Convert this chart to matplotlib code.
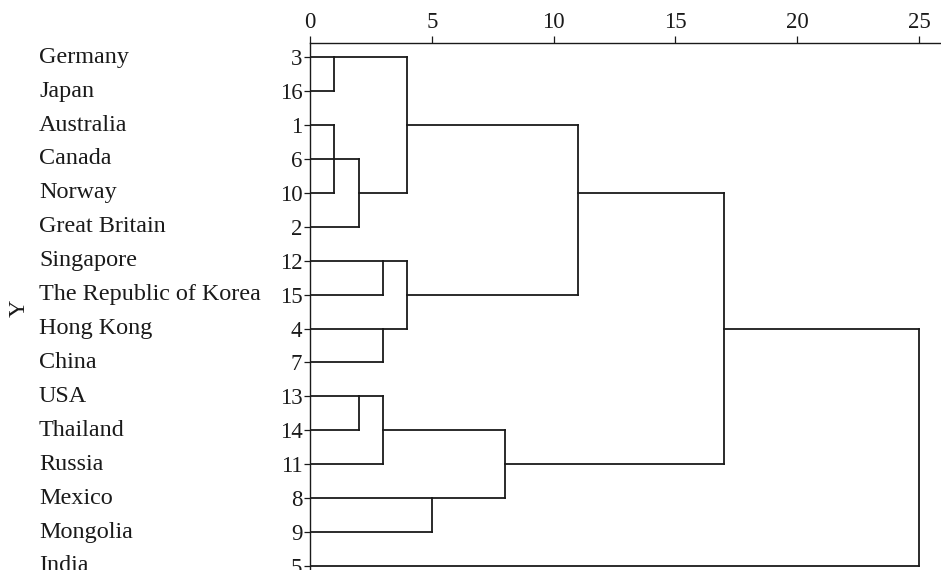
import matplotlib
matplotlib.use("Agg")
import matplotlib.pyplot as plt
import matplotlib.transforms as mtransforms

# Leaves in display order (top to bottom)
countries = ["Germany", "Japan", "Australia", "Canada", "Norway", "Great Britain",
             "Singapore", "The Republic of Korea", "Hong Kong", "China", "USA",
             "Thailand", "Russia", "Mexico", "Mongolia", "India"]
case_ids = [3, 16, 1, 6, 10, 2, 12, 15, 4, 7, 13, 14, 11, 8, 9, 5]

# Agglomeration schedule: (cluster A, cluster B, rescaled distance).
# Leaves are referred to by case id; the cluster formed at step k is "c<k>".
merge_a = [3, 1, 6, "c2", 12, 4, 13, "c6", 8, "c0", "c4", "c7", "c9", "c12", "c13"]
merge_b = [16, 10, "c1", 2, 15, 7, 14, 11, 9, "c3", "c5", "c8", "c10", "c11", 5]
merge_d = [1, 1, 1, 2, 3, 3, 2, 3, 5, 4, 4, 8, 11, 17, 25]

fig = plt.figure(figsize=(9.41, 5.70), dpi=100)
W, H = 941, 570
left_px, top_px = 310, 43
ax = fig.add_axes([left_px / W, 0, (W - left_px) / W, (H - top_px) / H])

plt.rcParams["font.family"] = "Liberation Serif"
num_font = dict(family="Liberation Serif", size=16.5, color="#1a1a1a")
name_font = dict(family="Liberation Serif", size=17.4, color="#1a1a1a")

row_of = {cid: i for i, cid in enumerate(case_ids)}
pos = {cid: (row_of[cid], 0.0) for cid in case_ids}   # cluster -> (row, distance)

lc = "#1a1a1a"
lw = 1.3
for k, (a, b, d) in enumerate(zip(merge_a, merge_b, merge_d)):
    ya, xa = pos[a]
    yb, xb = pos[b]
    ax.plot([xa, d], [ya, ya], color=lc, lw=lw, solid_capstyle="projecting")
    ax.plot([xb, d], [yb, yb], color=lc, lw=lw, solid_capstyle="projecting")
    ax.plot([d, d], [ya, yb], color=lc, lw=lw, solid_capstyle="projecting")
    pos["c%d" % k] = ((ya + yb) // 2, float(d))

ax.set_xlim(0, (W - left_px) / 24.36)
ax.set_ylim(15.12, -0.42)

ax.xaxis.tick_top()
ax.set_xticks([0, 5, 10, 15, 20, 25])
ax.set_xticklabels(["0", "5", "10", "15", "20", "25"], fontdict=num_font)
ax.tick_params(axis="x", direction="out", length=5, width=0.9, pad=2.5, colors=lc)

ax.set_yticks(range(len(case_ids)))
ax.set_yticklabels([str(c) for c in case_ids], fontdict=num_font)
ax.tick_params(axis="y", direction="out", length=4, width=0.9, pad=1.5, colors=lc)

for s in ["right", "bottom"]:
    ax.spines[s].set_visible(False)
for s in ["left", "top"]:
    ax.spines[s].set_linewidth(1.0)
    ax.spines[s].set_color(lc)

trans = mtransforms.blended_transform_factory(fig.transFigure, ax.transData)
for i, name in enumerate(countries):
    ax.text(39 / W, i, name, transform=trans, ha="left", va="center",
            clip_on=False, **name_font)

fig.text(19 / W, 1 - 308 / H, "Y", rotation=90, ha="center", va="center", **name_font)

fig.savefig("out.png", dpi=100)
